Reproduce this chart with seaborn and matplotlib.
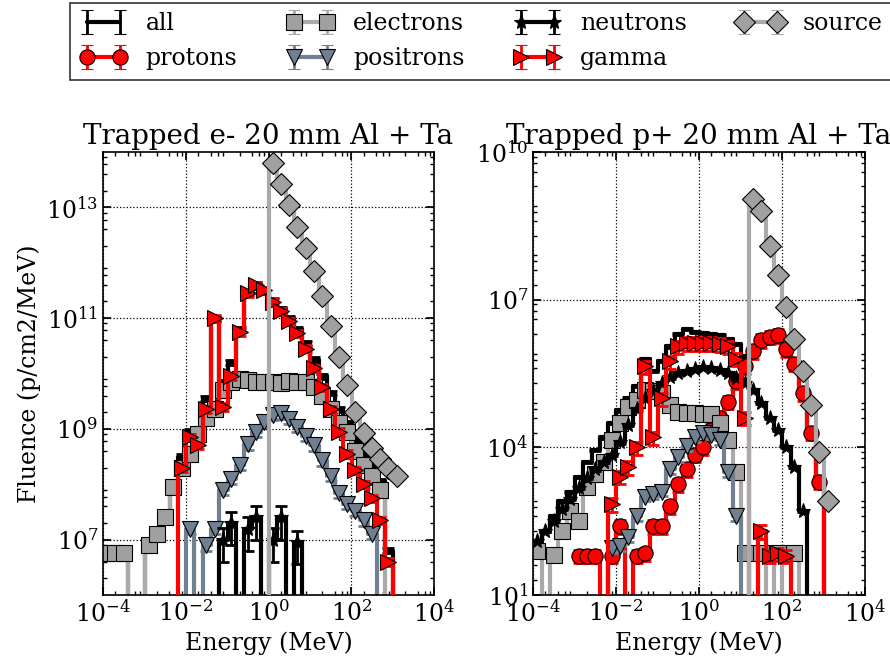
import numpy as np
import pandas as pd
import seaborn as sns
import matplotlib.pyplot as plt
from matplotlib import ticker

# log10 of bin centres (MeV), bins are 0.2 decade wide
log_energy = [-3.9, -3.7, -3.5, -3.3, -3.1, -2.9, -2.7, -2.5, -2.3, -2.1,
              -1.9, -1.7, -1.5, -1.3, -1.1, -0.9, -0.7, -0.5, -0.3, -0.1,
              0.1, 0.3, 0.5, 0.7, 0.9, 1.1, 1.3, 1.5, 1.7, 1.9,
              2.1, 2.3, 2.5, 2.7, 2.9, 3.1, 3.3, 3.5, 3.7, 3.9]

# log10 fluence per bin, None = no data, 0 = empty bin
# --- trapped electrons ---
e_all = [6.75, 6.75, 6.75, 0, 0, 6.95, 7.15, 7.45, 7.95, 8.5,
         8.95, 8.95, 9.55, 11.0, 9.85, 10.2, 10.8, 11.47, 11.62, 11.52,
         11.33, 11.16, 11.0, 10.8, 10.55, 10.25, 9.95, 9.65, 9.35, 9.1,
         8.8, 8.55, 8.35, 8.05, 6.8, 0, None, None, None, None]
e_protons = [None] * 40
e_electrons = [6.75, 6.75, 6.75, 0, 0, 6.9, 7.1, 7.4, 7.95, 8.3,
               8.55, 8.9, 9.2, 9.35, 9.7, 9.85, 9.9, 9.88, 9.85, 9.85,
               9.85, 9.83, 9.87, 9.85, 9.85, 9.75, 9.6, 9.35, 9.1, 8.95,
               8.6, 8.35, 8.15, 7.9, 0, None, None, None, None, None]
e_positrons = [None, None, None, None, None, None, None, None, None, 0,
               7.2, 0, 6.9, 7.2, 7.9, 8.1, 8.35, 8.72, 8.95, 9.13,
               9.25, 9.28, 9.18, 9.04, 8.88, 8.7, 8.43, 8.15, 7.85, 7.65,
               7.52, 7.35, 7.1, 0, None, None, None, None, None, None]
e_neutrons = [None, None, None, None, None, None, None, None, None, None,
              None, None, None, 0, 7.0, 7.3, 0, 7.2, 7.4, 0,
              7.0, 7.4, 0, 6.95, 0, None, None, None, None, None,
              None, None, None, None, None, None, None, None, None, None]
e_gamma = [None, None, None, None, None, None, None, None, 0, 8.3,
           8.85, 8.7, 9.35, 11.0, 9.4, 9.95, 10.75, 11.45, 11.6, 11.5,
           11.3, 11.13, 10.95, 10.73, 10.45, 10.1, 9.75, 9.35, 8.95, 8.55,
           8.25, 8.0, 7.75, 7.35, 6.6, 0, None, None, None, None]
e_source = [None, None, None, None, None, None, None, None, None, None,
            None, None, None, None, None, None, None, None, None, 0,
            13.8, 13.42, 13.05, 12.65, 12.27, 11.85, 11.4, 10.85, 10.3, 9.8,
            9.3, 8.92, 8.65, 8.46, 8.3, 8.15, None, None, None, None]
# relative statistical error per series (all, protons, ..., source)
e_rel_err = [0.1, 0.3, 0.2, 0.2, 0.6, 0.15, 0.02]

# --- trapped protons ---
p_all = [2.1, 2.3, 2.6, 2.9, 3.1, 3.4, 3.7, 3.95, 4.2, 4.5,
         4.75, 5.0, 5.25, 5.8, 5.55, 5.75, 6.05, 6.3, 6.4, 6.35,
         6.32, 6.3, 6.28, 6.2, 6.1, 5.85, 6.05, 6.18, 6.25, 6.28,
         6.0, 5.7, 5.1, 4.4, 3.4, 0, None, None, None, None]
p_protons = [None, None, None, None, None, 1.8, 1.8, 1.8, 0, 1.8,
             2.4, 0, 1.8, 1.85, 2.4, 2.4, 2.8, 3.25, 3.55, 3.85,
             4.0, 4.35, 4.6, 4.93, 5.35, 5.65, 5.95, 6.18, 6.25, 6.28,
             6.0, 5.7, 5.1, 4.3, 3.3, 0, None, None, None, None]
p_electrons = [1.9, 0, 1.82, 2.3, 2.7, 2.5, 3.2, 3.45, 3.7, 4.15,
               4.5, 4.82, 4.97, 5.17, 5.15, 5.1, 4.85, 4.72, 4.7, 4.7,
               4.68, 4.67, 4.5, 4.15, 3.5, 1.85, 0, 1.85, 0, 1.85,
               0, 1.85, 0, None, None, None, None, None, None, None]
p_positrons = [None, None, None, None, None, None, None, None, 0, 1.95,
               2.0, 2.17, 2.6, 3.0, 3.05, 3.1, 3.55, 3.8, 4.02, 4.2,
               4.3, 4.26, 4.15, 3.5, 2.6, 0, None, None, None, None,
               None, None, None, None, None, None, None, None, None, None]
p_neutrons = [2.1, 2.3, 2.5, 2.75, 2.95, 3.18, 3.38, 3.55, 3.7, 3.85,
              4.1, 4.45, 4.77, 5.0, 5.15, 5.3, 5.42, 5.5, 5.56, 5.6,
              5.63, 5.62, 5.58, 5.5, 5.4, 5.3, 5.17, 4.9, 4.6, 4.35,
              4.0, 3.6, 2.7, 0, None, None, None, None, None, None]
p_gamma = [None, None, None, None, None, None, None, None, 0, 2.85,
           3.4, 3.6, 4.0, 5.65, 4.2, 5.0, 5.75, 6.05, 6.12, 6.12,
           6.12, 6.12, 6.1, 6.05, 5.8, 4.6, 0, 2.3, 1.8, 1.85,
           1.8, 0, None, None, None, None, None, None, None, None]
p_source = [None, None, None, None, None, None, None, None, None, None,
            None, None, None, None, None, None, None, None, None, None,
            None, None, None, None, None, 0, 9.05, 8.8, 8.1, 7.5,
            6.85, 6.2, 5.55, 4.85, 3.9, 2.9, None, None, None, None]
p_rel_err = [0.05, 0.3, 0.2, 0.2, 0.05, 0.3, 0.02]

names = ['all', 'protons', 'electrons', 'positrons', 'neutrons', 'gamma', 'source']

STYLE = {
    'all': dict(line='black', face='black', marker=''),
    'protons': dict(line='red', face='red', marker='o'),
    'electrons': dict(line='#aaaaaa', face='#a0a0a0', marker='s'),
    'positrons': dict(line='#708090', face='#708090', marker='v'),
    'neutrons': dict(line='black', face='black', marker='*'),
    'gamma': dict(line='red', face='red', marker='>'),
    'source': dict(line='#aaaaaa', face='#a0a0a0', marker='D'),
}

sns.set_theme(style='ticks', rc={
    'axes.edgecolor': 'black', 'axes.linewidth': 1.2,
    'text.color': 'black', 'axes.labelcolor': 'black',
    'xtick.direction': 'in', 'ytick.direction': 'in',
    'xtick.top': True, 'ytick.right': True,
    'xtick.major.size': 6, 'ytick.major.size': 6,
    'xtick.minor.size': 3, 'ytick.minor.size': 3,
    'xtick.color': 'black', 'ytick.color': 'black',
    'xtick.labelsize': 17, 'ytick.labelsize': 17,
    'axes.labelsize': 17, 'axes.titlesize': 20,
})
plt.rcParams['font.family'] = ['DejaVu Serif']
plt.rcParams['mathtext.fontset'] = 'dejavuserif'

fig = plt.figure(figsize=(8.9, 6.61), dpi=100)
ax1 = fig.add_axes([103 / 890, 66 / 661, 331 / 890, 443 / 661])
ax2 = fig.add_axes([533 / 890, 66 / 661, 332 / 890, 443 / 661])

panels = [
    (ax1, [e_all, e_protons, e_electrons, e_positrons, e_neutrons, e_gamma, e_source],
     e_rel_err, (1e6, 1e14), [1e7, 1e9, 1e11, 1e13], 'Trapped e- 20 mm Al + Ta'),
    (ax2, [p_all, p_protons, p_electrons, p_positrons, p_neutrons, p_gamma, p_source],
     p_rel_err, (1e1, 1e10), [1e1, 1e4, 1e7, 1e10], 'Trapped p+ 20 mm Al + Ta'),
]

for ax, series, rel_err, ylim, yticks, title in panels:
    ax.set_xscale('log')
    ax.set_yscale('log')
    floor = ylim[0] * 1e-3  # empty bins drop below the frame
    for k, (name, vals) in enumerate(zip(names, series)):
        df = pd.DataFrame({'logE': log_energy, 'logF': vals}).dropna()
        if df.empty:
            continue
        df['E'] = 10.0 ** df['logE']
        df['F'] = np.where(df['logF'] > 0, 10.0 ** df['logF'], floor)
        st = STYLE[name]
        z = 2 + 0.1 * k
        err = np.where(df['F'] > floor, df['F'] * rel_err[k], 0.0)
        ax.errorbar(df['E'], df['F'], yerr=err, fmt='none', ecolor=st['line'],
                    elinewidth=2, capsize=4, capthick=2, zorder=z)
        sns.lineplot(data=df, x='E', y='F', ax=ax, estimator=None, sort=False,
                     drawstyle='steps-mid', color=st['line'], lw=3,
                     marker=st['marker'] or None, markersize=11,
                     markerfacecolor=st['face'], markeredgecolor='black',
                     markeredgewidth=0.8, legend=False, zorder=z + 0.05)
    ax.set_xlim(1e-4, 1e4)
    ax.set_ylim(*ylim)
    ax.xaxis.set_major_locator(ticker.FixedLocator([1e-4, 1e-2, 1e0, 1e2, 1e4]))
    ax.yaxis.set_major_locator(ticker.FixedLocator(yticks))
    ax.xaxis.set_major_formatter(ticker.LogFormatterSciNotation())
    ax.yaxis.set_major_formatter(ticker.LogFormatterSciNotation())
    for axis in (ax.xaxis, ax.yaxis):
        axis.set_minor_locator(ticker.LogLocator(base=10, subs=[2, 4, 6, 8], numticks=100))
        axis.set_minor_formatter(ticker.NullFormatter())
    ax.grid(True, which='major', color='black', linestyle=':', linewidth=0.9)
    ax.set_title(title)
    ax.set_xlabel('Energy (MeV)')
    ax.set_ylabel('')

ax1.set_ylabel('Fluence (p/cm2/MeV)')

# legend proxies
handles = []
for name in names:
    st = STYLE[name]
    h = ax1.errorbar([np.nan], [np.nan], yerr=[np.nan], color=st['line'],
                     marker=st['marker'] or None, ms=11, mfc=st['face'], mec='black',
                     mew=0.8, lw=3, elinewidth=2, capsize=4, capthick=2, label=name)
    handles.append(h)
ax1.set_xlim(1e-4, 1e4)
ax1.set_ylim(1e6, 1e14)

leg = fig.legend(handles, names, loc='upper left', bbox_to_anchor=(70 / 890, 1 - 3 / 661),
                 ncol=4, numpoints=2, frameon=True, fancybox=False, borderaxespad=0,
                 prop=dict(family='DejaVu Serif', size=17),
                 labelspacing=0.5, handlelength=2.0, columnspacing=2.1)
leg.get_frame().set_edgecolor('black')
leg.get_frame().set_linewidth(1.2)

fig.savefig('out.png', dpi=100)
